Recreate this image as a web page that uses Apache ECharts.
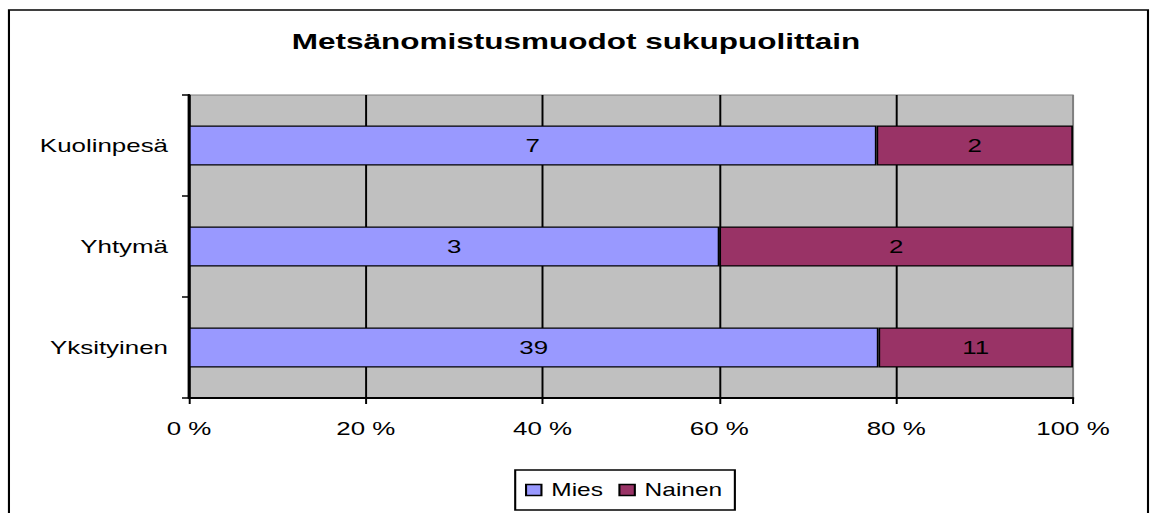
<!DOCTYPE html>
<html>
<head>
<meta charset="utf-8">
<script src="https://cdn.jsdelivr.net/npm/echarts@6/dist/echarts.min.js"></script>
<style>
  html, body { margin: 0; padding: 0; background: #fff; overflow: hidden; }
  #wrap { width: 823px; height: 513px; transform: scaleX(1.4); transform-origin: 0 0; }
  #chart { width: 823px; height: 513px; }
</style>
</head>
<body>
<div id="wrap"><div id="chart"></div></div>
<script>
// Data (counts per ownership form and gender)
const categories = ['Yksityinen', 'Yhtymä', 'Kuolinpesä'];
const mies = [39, 3, 7];
const nainen = [11, 2, 2];
const xTicks = [0, 20, 40, 60, 80, 100];
const titleText = 'Metsänomistusmuodot sukupuolittain';

const miesPct = mies.map((v, i) => v / (v + nainen[i]) * 100);
const nainenPct = nainen.map((v, i) => v / (mies[i] + v) * 100);

const FONT = '"Liberation Sans", Arial, sans-serif';
const chart = echarts.init(document.getElementById('chart'), null, { renderer: 'svg' });

chart.setOption({
  animation: false,
  backgroundColor: '#fff',
  textStyle: { fontFamily: FONT },
  graphic: [{
    type: 'rect',
    shape: { x: 6.4, y: 10, width: 813.6, height: 510 },
    style: { fill: 'none', stroke: '#000', lineWidth: 1.5 },
    silent: true
  }],
  title: {
    text: titleText,
    left: 'center',
    top: 30,
    padding: 0,
    textStyle: { fontFamily: FONT, fontSize: 22.5, fontWeight: 'bold', color: '#000' }
  },
  legend: {
    data: ['Mies', 'Nainen'],
    left: 368,
    top: 470,
    orient: 'horizontal',
    icon: 'rect',
    itemWidth: 11,
    itemHeight: 11,
    itemGap: 11,
    borderColor: '#000',
    borderWidth: 1.5,
    padding: [11, 9, 11, 7],
    itemStyle: { borderColor: '#000', borderWidth: 1.5 },
    textStyle: { fontFamily: FONT, fontSize: 17.5, color: '#000', padding: [0, 0, 0, 2] }
  },
  grid: {
    left: 135,
    right: 56.6,
    top: 95,
    bottom: 115,
    show: true,
    backgroundColor: '#C0C0C0',
    borderColor: '#808080',
    borderWidth: 1
  },
  xAxis: {
    type: 'value',
    min: xTicks[0],
    max: xTicks[xTicks.length - 1],
    interval: 20,
    axisLabel: {
      formatter: '{value} %',
      fontFamily: FONT,
      fontSize: 18.5,
      color: '#000',
      margin: 21
    },
    axisLine: { show: true, lineStyle: { color: '#000', width: 2 } },
    axisTick: { show: true, length: 6, lineStyle: { color: '#000', width: 1.4 } },
    splitLine: {
      show: true,
      lineStyle: { color: ['#000', '#000', '#000', '#000', '#000', '#808080'], width: 1.4 }
    }
  },
  yAxis: {
    type: 'category',
    data: categories,
    axisLine: { show: true, lineStyle: { color: '#000', width: 2 } },
    axisTick: { show: true, length: 5, lineStyle: { color: '#000', width: 1.5 } },
    axisLabel: { fontFamily: FONT, fontSize: 18.5, color: '#000', margin: 15 },
    splitLine: { show: false }
  },
  series: [
    {
      name: 'Mies',
      type: 'bar',
      stack: 'total',
      barWidth: 40,
      data: miesPct,
      itemStyle: { color: '#9999FF', borderColor: '#000', borderWidth: 1.2 },
      label: {
        show: true,
        position: 'inside',
        formatter: p => String(mies[p.dataIndex]),
        fontFamily: FONT,
        fontSize: 18.5,
        color: '#000',
        textBorderWidth: 0
      }
    },
    {
      name: 'Nainen',
      type: 'bar',
      stack: 'total',
      barWidth: 40,
      data: nainenPct,
      itemStyle: { color: '#993366', borderColor: '#000', borderWidth: 1.2 },
      label: {
        show: true,
        position: 'inside',
        formatter: p => String(nainen[p.dataIndex]),
        fontFamily: FONT,
        fontSize: 18.5,
        color: '#000',
        textBorderWidth: 0
      }
    }
  ]
});
</script>
</body>
</html>
